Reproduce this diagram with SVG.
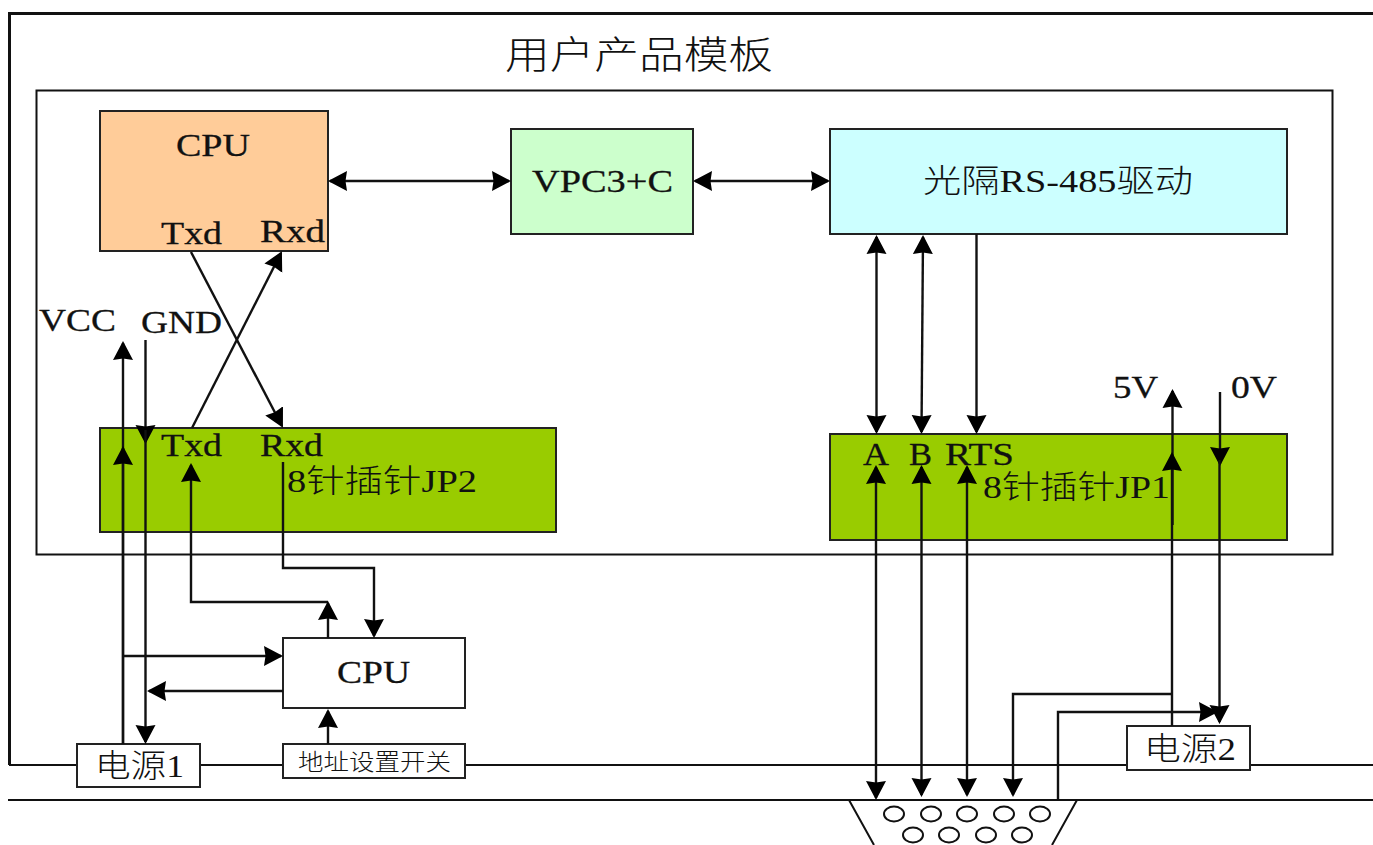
<svg xmlns="http://www.w3.org/2000/svg" width="1373" height="845" viewBox="0 0 1373 845">
<style>
text{font-family:"Liberation Serif","Noto Sans CJK SC",serif;font-size:32px;fill:#111;stroke:#111;stroke-width:.3}
.cn{font-weight:300;stroke-width:0}
.box{stroke:#222;stroke-width:2}
.w{fill:#fff}
.c{fill:none;stroke:#111;stroke-width:2.4}
.f{fill:none;stroke:#111;stroke-width:2}
</style>
<defs>
<marker id="a" markerUnits="userSpaceOnUse" markerWidth="24" markerHeight="24" refX="17" refY="12" orient="auto-start-reverse" viewBox="0 0 24 24"><path d="M0 2 L1.5 12 L0 22 L19 12 Z" fill="#000"/></marker>
</defs>
<rect width="1373" height="845" fill="#fff"/>
<g id="board">
<path class="f" style="stroke-width:3" d="M9.5 765V13.5H1373"/>
<path class="f" d="M9 765H1373M8 800H1373"/>
<rect x="36.5" y="90.5" width="1296" height="464" class="f"/>
<text x="505" y="68" textLength="268" lengthAdjust="spacingAndGlyphs" class="cn" style="font-size:38px">用户产品模板</text>
</g>
<g id="cpu-main"><rect class="box" x="100" y="111" width="228" height="140" fill="#FFCC99"/>
<text x="176" y="156" textLength="74" lengthAdjust="spacingAndGlyphs">CPU</text>
<text x="161" y="244" textLength="61" lengthAdjust="spacingAndGlyphs">Txd</text>
<text x="260" y="242" textLength="65" lengthAdjust="spacingAndGlyphs">Rxd</text></g>
<g id="vpc3"><rect class="box" x="511" y="129" width="182" height="105" fill="#CCFFCC"/>
<text x="532" y="192" textLength="141" lengthAdjust="spacingAndGlyphs">VPC3+C</text></g>
<g id="opto"><rect class="box" x="830" y="129" width="457" height="105" fill="#CCFFFF"/>
<text x="923" y="192" textLength="270" lengthAdjust="spacingAndGlyphs" class="cn">光隔RS-485驱动</text></g>
<g id="jp2"><rect class="box" x="100" y="428" width="456" height="104" fill="#99CC00"/>
<text x="161" y="456" textLength="61" lengthAdjust="spacingAndGlyphs">Txd</text>
<text x="260" y="456" textLength="63" lengthAdjust="spacingAndGlyphs">Rxd</text>
<text x="287" y="492" textLength="190" lengthAdjust="spacingAndGlyphs" class="cn">8针插针JP2</text></g>
<g id="jp1"><rect class="box" x="830" y="434" width="457" height="106" fill="#99CC00"/>
<text x="863" y="465" textLength="26" lengthAdjust="spacingAndGlyphs">A</text>
<text x="909" y="465" textLength="23" lengthAdjust="spacingAndGlyphs">B</text>
<text x="945" y="465" textLength="69" lengthAdjust="spacingAndGlyphs">RTS</text>
<text x="983" y="498" textLength="187" lengthAdjust="spacingAndGlyphs" class="cn">8针插针JP1</text></g>
<g id="labels">
<text x="39" y="331" textLength="77" lengthAdjust="spacingAndGlyphs">VCC</text>
<text x="141" y="333" textLength="81" lengthAdjust="spacingAndGlyphs">GND</text>
<text x="1113" y="398" textLength="45" lengthAdjust="spacingAndGlyphs">5V</text>
<text x="1231" y="398" textLength="46" lengthAdjust="spacingAndGlyphs">0V</text>
</g>
<g id="cpu-2"><rect class="box w" x="283" y="638" width="182" height="70"/>
<text x="337" y="683" textLength="73" lengthAdjust="spacingAndGlyphs">CPU</text></g>
<g id="power-1"><rect class="box w" x="77" y="744" width="123" height="43"/>
<text x="95" y="777" textLength="89" lengthAdjust="spacingAndGlyphs" class="cn">电源1</text></g>
<g id="addr-switch"><rect class="box w" x="283" y="744" width="182" height="34"/>
<text x="298" y="770" textLength="153" lengthAdjust="spacingAndGlyphs" class="cn" style="font-size:23px">地址设置开关</text></g>
<g id="power-2"><rect class="box w" x="1127" y="726" width="123" height="44"/>
<text x="1144" y="760" textLength="92" lengthAdjust="spacingAndGlyphs" class="cn">电源2</text></g>
<g id="db9">
<path class="f" d="M849 800L874 845M1077 800L1052 845"/>
<g class="f"><ellipse cx="894" cy="814" rx="10" ry="7.5"/><ellipse cx="931" cy="814" rx="10" ry="7.5"/><ellipse cx="967" cy="814" rx="10" ry="7.5"/><ellipse cx="1004" cy="814" rx="10" ry="7.5"/><ellipse cx="1040" cy="814" rx="10" ry="7.5"/><ellipse cx="913" cy="835" rx="10" ry="7.5"/><ellipse cx="949" cy="835" rx="10" ry="7.5"/><ellipse cx="986" cy="835" rx="10" ry="7.5"/><ellipse cx="1022" cy="835" rx="10" ry="7.5"/></g>
</g>
<g id="connectors">
<g class="c">
<path marker-start="url(#a)" marker-end="url(#a)" d="M330 181H509"/>
<path marker-start="url(#a)" marker-end="url(#a)" d="M695 181H828"/>
<path marker-start="url(#a)" marker-end="url(#a)" d="M876.5 237V432"/>
<path marker-start="url(#a)" marker-end="url(#a)" d="M923 237L921.5 432"/>
<path marker-end="url(#a)" d="M976.5 234V432"/>
<path marker-start="url(#a)" marker-end="url(#a)" d="M876 467V798"/>
<path marker-start="url(#a)" marker-end="url(#a)" d="M921.5 467V795"/>
<path marker-start="url(#a)" marker-end="url(#a)" d="M967 467V795"/>
<path marker-end="url(#a)" d="M1172.5 525V391"/>
<path marker-end="url(#a)" d="M1172 726V454"/>
<path marker-end="url(#a)" d="M1220 392V464"/>
<path marker-end="url(#a)" d="M1219.5 460V722"/>
<path marker-end="url(#a)" d="M1172 694H1013V795"/>
<path marker-end="url(#a)" d="M1058 800V712H1216"/>
<path marker-end="url(#a)" d="M123 744V343"/>
<path marker-end="url(#a)" d="M123 744V448"/>
<path marker-end="url(#a)" d="M145.5 340V442"/>
<path marker-end="url(#a)" d="M145.5 430V742"/>
<path marker-end="url(#a)" d="M191 252L282 426"/>
<path marker-end="url(#a)" d="M192 428L281 253"/>
<path marker-end="url(#a)" d="M328 602H191V465"/>
<path marker-end="url(#a)" d="M328 638V603"/>
<path marker-end="url(#a)" d="M283 462V568H374V636"/>
<path marker-end="url(#a)" d="M123 656H281"/>
<path marker-end="url(#a)" d="M283 691H149"/>
<path marker-end="url(#a)" d="M328 744V711"/>
</g>
</g>
</svg>
